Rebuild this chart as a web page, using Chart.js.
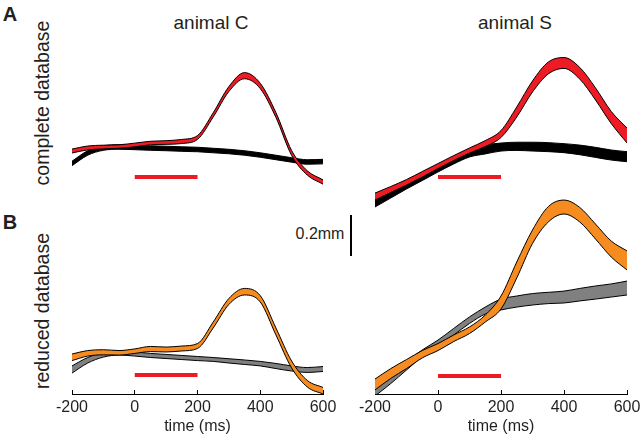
<!DOCTYPE html>
<html lang="en">
<head>
<meta charset="UTF-8">
<title>animal C / animal S</title>
<script src="https://cdn.jsdelivr.net/npm/chart.js"></script>
<style>
  body {
    margin: 0;
    width: 640px;
    height: 438px;
    overflow: hidden;
    background: #fff;
    position: relative;
    font-family: "Liberation Sans", Arial, sans-serif;
    color: #231f20;
  }
  canvas { position: absolute; }
  .lbl {
    position: absolute;
    white-space: nowrap;
    line-height: 1;
    transform: translate(-50%, -50%);
  }
  .rot { transform: translate(-50%, -50%) rotate(-90deg); }
  .letter { font-weight: bold; font-size: 20px; }
  #scalebar { position: absolute; left: 350px; top: 215px; width: 2px; background: #000; }
</style>
</head>
<body>
<div class="lbl letter" style="left:10px;top:14px">A</div>
<div class="lbl letter" style="left:10px;top:222px">B</div>
<div class="lbl" style="left:211px;top:22px;font-size:19px">animal C</div>
<div class="lbl" style="left:515px;top:22px;font-size:19px">animal S</div>
<div class="lbl rot" style="left:43px;top:103px;font-size:19.5px">complete database</div>
<div class="lbl rot" style="left:43px;top:311px;font-size:19.5px">reduced database</div>
<div class="lbl" style="left:320px;top:234px;font-size:16px">0.2mm</div>
<div id="scalebar"></div>

<canvas id="cFull"></canvas>
<canvas id="sFull"></canvas>
<canvas id="cReduced"></canvas>
<canvas id="sReduced"></canvas>

<script>
// time axis (ms) and stimulus window
const timeMs = [-200, -150, -100, -50, 0, 50, 100, 150, 200, 250, 300, 350, 400, 450, 500, 550, 600];
const stimMs = [0, 200];
const xTicks = [-200, 0, 200, 400, 600];
const scaleBarMm = 0.2;

// displacement (mm), upper and lower edge of each band
// animal C, complete database
const cFullStimHi = [0.224, 0.239, 0.243, 0.245, 0.253, 0.262, 0.265, 0.271, 0.290, 0.401, 0.529, 0.597, 0.545, 0.402, 0.217, 0.118, 0.074];
const cFullStimLo = [0.205, 0.220, 0.225, 0.228, 0.235, 0.245, 0.247, 0.251, 0.271, 0.380, 0.505, 0.567, 0.519, 0.378, 0.193, 0.097, 0.053];
const cFullCtrlHi = [0.165, 0.216, 0.240, 0.245, 0.243, 0.240, 0.238, 0.235, 0.233, 0.228, 0.223, 0.216, 0.206, 0.194, 0.182, 0.172, 0.174];
const cFullCtrlLo = [0.143, 0.194, 0.218, 0.223, 0.221, 0.218, 0.216, 0.213, 0.211, 0.206, 0.201, 0.194, 0.184, 0.172, 0.160, 0.150, 0.152];
const cFullStimLevel = 0.088;

// animal S, complete database
const sFullStimHi = [0.107, 0.139, 0.173, 0.212, 0.251, 0.290, 0.327, 0.363, 0.412, 0.527, 0.654, 0.746, 0.768, 0.720, 0.620, 0.505, 0.424];
const sFullStimLo = [0.073, 0.110, 0.146, 0.185, 0.227, 0.266, 0.302, 0.334, 0.378, 0.478, 0.600, 0.688, 0.715, 0.663, 0.561, 0.446, 0.351];
const sFullCtrlHi = [0.088, 0.127, 0.166, 0.205, 0.244, 0.283, 0.317, 0.341, 0.351, 0.355, 0.355, 0.353, 0.348, 0.341, 0.330, 0.317, 0.309];
const sFullCtrlLo = [0.039, 0.083, 0.127, 0.168, 0.210, 0.249, 0.283, 0.298, 0.312, 0.315, 0.312, 0.309, 0.304, 0.294, 0.281, 0.268, 0.260];
const sFullStimLevel = 0.185;

// animal C, reduced database
const cRedStimHi = [0.195, 0.212, 0.216, 0.212, 0.220, 0.232, 0.229, 0.234, 0.246, 0.351, 0.466, 0.515, 0.480, 0.322, 0.161, 0.066, 0.032];
const cRedStimLo = [0.163, 0.185, 0.191, 0.190, 0.198, 0.207, 0.205, 0.210, 0.222, 0.322, 0.437, 0.483, 0.449, 0.288, 0.127, 0.034, 0.000];
const cRedCtrlHi = [0.137, 0.178, 0.202, 0.210, 0.205, 0.198, 0.193, 0.188, 0.183, 0.178, 0.172, 0.166, 0.159, 0.149, 0.137, 0.129, 0.134];
const cRedCtrlLo = [0.102, 0.151, 0.180, 0.190, 0.185, 0.178, 0.173, 0.168, 0.163, 0.159, 0.151, 0.144, 0.137, 0.124, 0.112, 0.105, 0.110];
const cRedStimLevel = 0.093;

// animal S, reduced database
const sRedStimHi = [0.073, 0.124, 0.168, 0.212, 0.246, 0.288, 0.327, 0.385, 0.478, 0.644, 0.800, 0.914, 0.946, 0.910, 0.829, 0.746, 0.698];
const sRedStimLo = [0.020, 0.076, 0.124, 0.176, 0.212, 0.256, 0.295, 0.351, 0.415, 0.566, 0.734, 0.839, 0.878, 0.839, 0.756, 0.668, 0.605];
const sRedCtrlHi = [0.039, 0.100, 0.159, 0.215, 0.263, 0.320, 0.376, 0.424, 0.463, 0.478, 0.490, 0.496, 0.502, 0.515, 0.527, 0.537, 0.551];
const sRedCtrlLo = [-0.010, 0.051, 0.117, 0.182, 0.234, 0.288, 0.344, 0.390, 0.410, 0.424, 0.434, 0.441, 0.444, 0.454, 0.463, 0.473, 0.483];
const sRedStimLevel = 0.088;

const RED = '#ed1c24';
const ORANGE = '#f68b1f';
const GREY = '#808080';
const PX_PER_MM = 205;
const SIDE_PAD = 30;
const AXIS_H = 44;

Chart.defaults.font.family = '"Liberation Sans", Arial, sans-serif';
Chart.defaults.color = '#231f20';

document.getElementById('scalebar').style.height = (scaleBarMm * PX_PER_MM) + 'px';

const toPts = arr => timeMs.map((t, i) => ({ x: t, y: arr[i] }));

// lower edge first, upper edge fills down to it, so both outlines sit on top of the fill
function band(hi, lo, color, outline) {
    const line = { pointRadius: 0, borderColor: outline, borderWidth: 1, cubicInterpolationMode: 'monotone' };
    return [
        { ...line, data: toPts(lo), fill: false },
        { ...line, data: toPts(hi), fill: '-1', backgroundColor: color }
    ];
}

function stimBar(level) {
    return {
        data: stimMs.map(t => ({ x: t, y: level })),
        borderColor: RED, borderWidth: 4, pointRadius: 0, fill: false, borderCapStyle: 'butt'
    };
}

function panel(id, area, datasets, showAxis) {
    const canvas = document.getElementById(id);
    canvas.width = area.width + 2 * SIDE_PAD;
    canvas.height = area.height + (showAxis ? AXIS_H : 0);
    canvas.style.left = (area.left - SIDE_PAD) + 'px';
    canvas.style.top = area.top + 'px';

    new Chart(canvas.getContext('2d'), {
        type: 'line',
        data: { datasets: datasets },
        options: {
            responsive: false,
            animation: false,
            devicePixelRatio: 1,
            layout: { padding: { left: SIDE_PAD, right: SIDE_PAD, top: 0, bottom: 0 } },
            plugins: { legend: { display: false }, tooltip: { enabled: false } },
            scales: {
                x: {
                    type: 'linear',
                    min: -200,
                    max: 600,
                    display: showAxis,
                    afterBuildTicks: s => { s.ticks = xTicks.map(v => ({ value: v })); },
                    afterFit: s => { if (showAxis) s.height = AXIS_H; },
                    ticks: { padding: 8, font: { size: 16 }, maxRotation: 0, autoSkip: false },
                    grid: { display: true, drawOnChartArea: false, drawTicks: true, tickLength: -4, color: '#000', lineWidth: 1 },
                    border: { display: true, color: '#000', width: 1 },
                    title: { display: true, text: 'time (ms)', font: { size: 16 }, padding: { top: 0, bottom: 2 } }
                },
                y: { type: 'linear', min: 0, max: area.height / PX_PER_MM, display: false }
            }
        }
    });
}

panel('cFull', { left: 72, top: 51, width: 251, height: 144 }, [
    ...band(cFullStimHi, cFullStimLo, RED, '#000'),
    ...band(cFullCtrlHi, cFullCtrlLo, '#000', '#000'),
    stimBar(cFullStimLevel)
], false);

panel('sFull', { left: 375, top: 51, width: 252, height: 164 }, [
    ...band(sFullStimHi, sFullStimLo, RED, '#000'),
    ...band(sFullCtrlHi, sFullCtrlLo, '#000', '#000'),
    stimBar(sFullStimLevel)
], false);

panel('cReduced', { left: 72, top: 271, width: 251, height: 123 }, [
    ...band(cRedStimHi, cRedStimLo, ORANGE, '#000'),
    ...band(cRedCtrlHi, cRedCtrlLo, GREY, '#000'),
    stimBar(cRedStimLevel)
], true);

panel('sReduced', { left: 375, top: 189, width: 252, height: 205 }, [
    ...band(sRedStimHi, sRedStimLo, ORANGE, '#000'),
    ...band(sRedCtrlHi, sRedCtrlLo, GREY, '#000'),
    stimBar(sRedStimLevel)
], true);
</script>
</body>
</html>
